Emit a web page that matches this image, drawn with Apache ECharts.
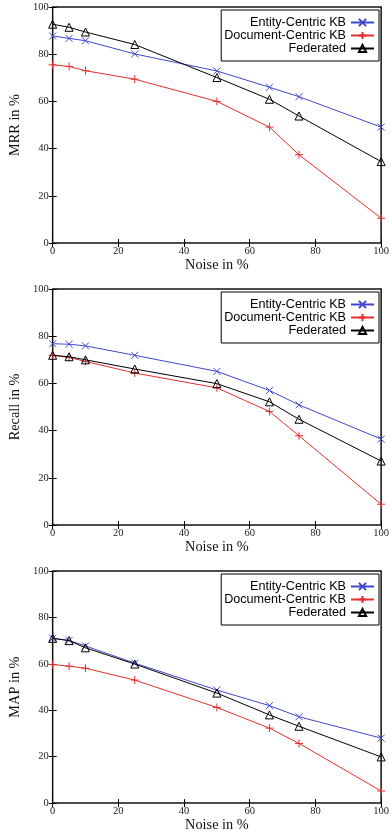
<!DOCTYPE html>
<html>
<head>
<meta charset="utf-8">
<script src="https://cdn.jsdelivr.net/npm/echarts@6/dist/echarts.min.js"></script>
<style>
html,body{margin:0;padding:0;background:#fff;}
#chart{width:392px;height:833px;}
</style>
</head>
<body>
<div id="chart"></div>
<script>
// ---- data ----
const noise = [0, 5, 10, 25, 50, 66, 75, 100];
const seriesNames = ['Entity-Centric KB', 'Document-Centric KB', 'Federated'];
const panelNames = ['MRR in %', 'Recall in %', 'MAP in %'];
const xAxisName = 'Noise in %';

const mrrEntity    = [87.7, 86.7, 85.7, 80.1, 72.9, 66.0, 62.0, 49.1];
const mrrDocument  = [75.5, 74.8, 73.0, 69.4, 60.0, 49.1, 37.4, 10.5];
const mrrFederated = [92.7, 91.4, 89.4, 84.1, 70.1, 60.9, 53.8, 34.5];

const recallEntity    = [76.8, 76.6, 75.9, 71.9, 65.1, 57.0, 50.9, 36.4];
const recallDocument  = [71.9, 71.0, 69.3, 64.4, 58.1, 48.1, 37.8, 8.8];
const recallFederated = [71.9, 71.3, 70.0, 66.1, 59.9, 52.2, 44.8, 27.1];

const mapEntity    = [71.0, 70.1, 67.7, 60.3, 48.7, 42.0, 37.2, 28.0];
const mapDocument  = [59.7, 59.0, 58.1, 53.0, 41.2, 32.3, 25.7, 5.2];
const mapFederated = [71.0, 70.0, 66.9, 59.9, 47.4, 38.0, 33.1, 19.9];

const yTicks = [0, 20, 40, 60, 80, 100];
const xTicks = [0, 20, 40, 60, 80, 100];

// ---- layout / style ----
const panels = [
  {top: 7,   data: [mrrEntity, mrrDocument, mrrFederated]},
  {top: 289, data: [recallEntity, recallDocument, recallFederated]},
  {top: 571, data: [mapEntity, mapDocument, mapFederated]}
];
const gridLeft = 49, gridRight = 9, gridHeight = 236;
const BLUE = '#3f48cc', RED = '#e62e2e', BLACK = '#000';
const serif = '"Liberation Serif", "DejaVu Serif", serif';
const sans = '"Liberation Sans", Arial, sans-serif';

const seriesStyles = [
  {color: BLUE, symbol: 'path://M0,0L10,10M10,0L0,10', size: 7,
   item: {color: BLUE, borderColor: BLUE, borderWidth: 1}},
  {color: RED, symbol: 'path://M5,0L5,10M0,5L10,5', size: 8,
   item: {color: RED, borderColor: RED, borderWidth: 1}},
  {color: BLACK, symbol: 'triangle', size: 8,
   item: {color: 'rgba(255,255,255,0)', borderColor: BLACK, borderWidth: 1}}
];

const grid = [], xAxis = [], yAxis = [], series = [], legend = [];
panels.forEach((p, gi) => {
  grid.push({left: gridLeft, right: gridRight, top: p.top, height: gridHeight,
    show: true, borderColor: '#111', borderWidth: 1.5, backgroundColor: 'transparent'});
  const tick = {show: true, inside: true, length: 4, lineStyle: {color: '#000', width: 1}};
  xAxis.push({type: 'value', gridIndex: gi, min: 0, max: 100, interval: 20,
    name: xAxisName, nameLocation: 'middle', nameGap: 12,
    nameTextStyle: {fontFamily: serif, fontSize: 14.3, color: '#111'},
    axisLine: {show: false}, axisTick: tick, splitLine: {show: false},
    axisLabel: {fontFamily: serif, fontSize: 10.5, color: '#222', margin: 3,
      formatter: v => xTicks.includes(v) ? String(v) : ''}});
  xAxis.push({type: 'value', gridIndex: gi, position: 'top', min: 0, max: 100, interval: 20,
    axisLine: {show: false}, axisTick: tick, splitLine: {show: false}, axisLabel: {show: false}});
  yAxis.push({type: 'value', gridIndex: gi, min: 0, max: 100, interval: 20,
    name: panelNames[gi], nameLocation: 'middle', nameGap: 20, nameRotate: 90,
    nameTextStyle: {fontFamily: serif, fontSize: 14.3, color: '#111'},
    axisLine: {show: false}, axisTick: tick, splitLine: {show: false},
    axisLabel: {fontFamily: serif, fontSize: 10.5, color: '#222', margin: 4,
      formatter: v => yTicks.includes(v) ? String(v) : ''}});
  yAxis.push({type: 'value', gridIndex: gi, position: 'right', min: 0, max: 100, interval: 20,
    axisLine: {show: false}, axisTick: tick, splitLine: {show: false}, axisLabel: {show: false}});

  p.data.forEach((vals, si) => {
    const st = seriesStyles[si];
    series.push({
      type: 'line', name: seriesNames[si],
      xAxisIndex: gi * 2, yAxisIndex: gi * 2,
      data: noise.map((x, i) => [x, vals[i]]),
      symbol: st.symbol, symbolSize: st.size, showSymbol: true,
      lineStyle: {color: st.color, width: 1},
      itemStyle: st.item,
      animation: false, z: 3 + si
    });
  });

  legend.push({
    show: true, orient: 'vertical', align: 'right',
    right: 13, top: p.top + 3,
    padding: [6, 4, 6, 3], itemGap: 0, itemWidth: 23, itemHeight: 9,
    borderColor: '#000', borderWidth: 1, backgroundColor: '#fff',
    textStyle: {fontFamily: sans, fontSize: 12.6, color: '#000'},
    selectedMode: false,
    data: seriesNames.map(n => ({name: n}))
  });
});

const chart = echarts.init(document.getElementById('chart'), null, {renderer: 'canvas'});
chart.setOption({
  animation: false,
  backgroundColor: '#fff',
  grid, xAxis, yAxis, series, legend
});
</script>
</body>
</html>
